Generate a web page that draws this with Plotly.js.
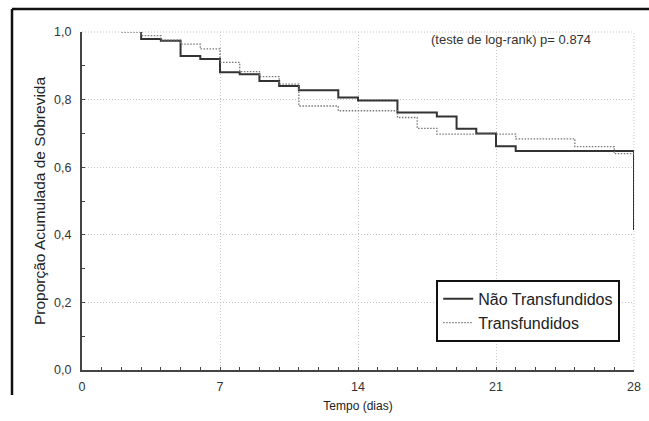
<!DOCTYPE html>
<html>
<head>
<meta charset="utf-8">
<script src="https://cdn.plot.ly/plotly-3.0.1.min.js"></script>
<style>
html,body{margin:0;padding:0;background:#fff;}
#chart{width:649px;height:421px;}
</style>
</head>
<body>
<div id="chart"></div>
<script>
// Não Transfundidos (solid)
const naoTime = [3, 3, 4, 5, 6, 7, 8, 9, 10, 11, 13, 14, 16, 18, 19, 20, 21, 22, 28];
const naoSurv = [1.0, 0.979, 0.974, 0.929, 0.920, 0.881, 0.875, 0.855, 0.840, 0.828, 0.806, 0.797, 0.762, 0.750, 0.714, 0.700, 0.662, 0.648, 0.414];
// Transfundidos (dotted)
const trTime = [2, 3, 4, 5, 6, 7, 8, 9, 10, 11, 13, 16, 17, 18, 22, 25, 27, 28];
const trSurv = [1.0, 0.989, 0.976, 0.964, 0.950, 0.910, 0.883, 0.868, 0.846, 0.781, 0.767, 0.747, 0.715, 0.698, 0.684, 0.661, 0.640, 0.640];

const seriesNames = ["Não Transfundidos", "Transfundidos"];
const xTickVals = [0, 7, 14, 21, 28];
const yTickVals = [0, 0.2, 0.4, 0.6, 0.8, 1.0];
const yTickText = ["0,0", "0,2", "0,4", "0,6", "0,8", "1,0"];
const annotationText = "(teste de log-rank) p= 0.874";

const fontFam = "Liberation Sans, Arial, Helvetica, sans-serif";
const gridStyle = {color: "#c4c4c4", width: 1, dash: "1px,2px"};

const traces = [
  {x: naoTime, y: naoSurv, name: seriesNames[0], mode: "lines", line: {shape: "hv", color: "#333", width: 2}},
  {x: trTime, y: trSurv, name: seriesNames[1], mode: "lines", line: {shape: "hv", color: "#777", width: 1.3, dash: "1.5px,1.5px"}}
];

const layout = {
  width: 649, height: 421,
  margin: {l: 82, r: 15, t: 32, b: 51},
  paper_bgcolor: "#fff", plot_bgcolor: "#fff",
  font: {family: fontFam, color: "#333", size: 12},
  showlegend: true,
  legend: {x: 0.975, xanchor: "right", y: 0.083, yanchor: "bottom",
           bordercolor: "#111", borderwidth: 2, bgcolor: "#fff",
           font: {size: 16, color: "#222", family: fontFam}},
  xaxis: {range: [0, 28], tickvals: xTickVals, showline: true, linecolor: "#444", linewidth: 2,
          ticks: "inside", ticklen: 3, tickcolor: "#444", ticklabelstandoff: 4,
          minor: {dtick: 1, ticks: "inside", ticklen: 3, tickcolor: "#444", showgrid: false},
          showgrid: true, gridcolor: gridStyle.color, griddash: gridStyle.dash, gridwidth: 1, zeroline: false,
          tickfont: {size: 12.5, color: "#333"},
          title: {text: "Tempo (dias)", font: {size: 12, color: "#222"}, standoff: 9}},
  yaxis: {range: [0, 1], tickvals: yTickVals, ticktext: yTickText, showline: true, linecolor: "#444", linewidth: 2,
          ticks: "inside", ticklen: 3, tickcolor: "#444", ticklabelstandoff: 6,
          minor: {dtick: 0.1, ticks: "inside", ticklen: 3, tickcolor: "#444", showgrid: false},
          showgrid: true, gridcolor: gridStyle.color, griddash: gridStyle.dash, gridwidth: 1, zeroline: false,
          tickfont: {size: 12.5, color: "#333"},
          title: {text: "Proporção Acumulada de Sobrevida", font: {size: 15.5, color: "#222"}, standoff: 5}},
  annotations: [{xref: "paper", yref: "paper", x: 0.926, y: 0.978, xanchor: "right", yanchor: "middle",
                 text: annotationText, showarrow: false, font: {size: 13, color: "#333"}}],
  shapes: [
    // grid lines at the upper and right range ends
    {type: "line", xref: "paper", yref: "paper", x0: 0, x1: 1, y0: 1, y1: 1, line: gridStyle, layer: "below"},
    {type: "line", xref: "paper", yref: "paper", x0: 1, x1: 1, y0: 0, y1: 1, line: gridStyle, layer: "below"},
    // frame
    {type: "line", xref: "paper", yref: "paper", x0: -0.1268, x1: 1.03, y0: 1.068, y1: 1.068, line: {color: "#111", width: 2.5}},
    {type: "line", xref: "paper", yref: "paper", x0: -0.1268, x1: -0.1268, y0: 1.068, y1: -0.074, line: {color: "#111", width: 2.5}}
  ]
};

Plotly.newPlot("chart", traces, layout, {displayModeBar: false, staticPlot: true});
</script>
</body>
</html>
